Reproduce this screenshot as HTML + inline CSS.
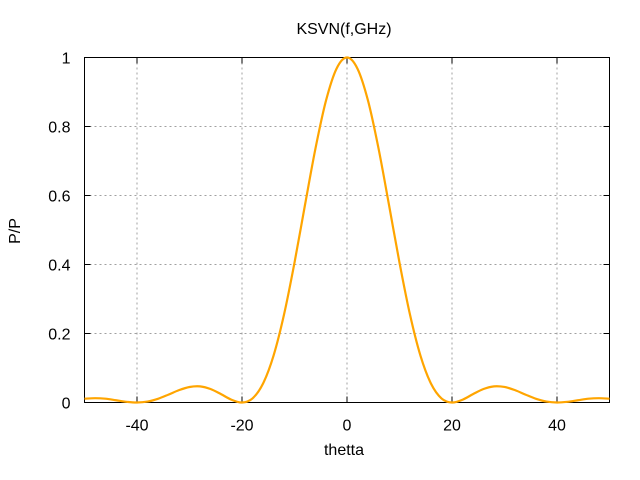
<!DOCTYPE html>
<html><head><meta charset="utf-8"><style>
body{margin:0;background:#fff;}
svg{display:block;font-family:"Liberation Sans",sans-serif;}
</style></head><body>
<svg id="chart" width="640" height="480"></svg>
<script>
const xValues=[-50,-48,-46,-44,-42,-40,-38,-36,-34,-32,-30,-28,-26,-24,-22,-20,-18,-16,-14,-12,-10,-8,-6,-4,-2,0,2,4,6,8,10,12,14,16,18,20,22,24,26,28,30,32,34,36,38,40,42,44,46,48,50];
const yValues=[0.011,0.0125,0.011,0.0065,0.002,0,0.0027,0.0108,0.0229,0.0358,0.0450,0.0468,0.0392,0.0243,0.0080,0,0.0119,0.0547,0.1353,0.2546,0.4053,0.5728,0.7368,0.8751,0.9675,1,0.9675,0.8751,0.7368,0.5728,0.4053,0.2546,0.1353,0.0547,0.0119,0,0.0080,0.0243,0.0392,0.0468,0.0450,0.0358,0.0229,0.0108,0.0027,0,0.002,0.0065,0.011,0.0125,0.011];
const xTicks=[-40,-20,0,20,40];
const yTicks=[0,0.2,0.4,0.6,0.8,1];
const yTickLabels=["0","0.2","0.4","0.6","0.8","1"];

const L=84.5,R=609.5,T=57.5,B=402.5;
const sx=v=>L+(v+50)/100*(R-L);
const sy=v=>B-v*(B-T);
const svg=document.getElementById('chart');
const NS='http://www.w3.org/2000/svg';
function mk(tag,attrs,parent){const e=document.createElementNS(NS,tag);for(const k in attrs)e.setAttribute(k,attrs[k]);(parent||svg).appendChild(e);return e;}

xTicks.forEach(v=>{
  const g=mk('line',{x1:sx(v),x2:sx(v),y1:T,y2:B,stroke:'#a0a0a0','stroke-dasharray':'2,3','stroke-width':1});
  
  
  const t1=mk('line',{x1:sx(v),x2:sx(v),y1:B,y2:B-6,stroke:'#000'});
  
  
  const t2=mk('line',{x1:sx(v),x2:sx(v),y1:T,y2:T+6,stroke:'#000'});
  
  
  const l=mk('text',{x:sx(v),y:B+28,'text-anchor':'middle','font-size':16,fill:'#000'});
  l.textContent=String(v);
  
  
});
yTicks.forEach((v,i)=>{
  if(v>0&&v<1){
    const g=mk('line',{x1:L,x2:R,y1:sy(v),y2:sy(v),stroke:'#a0a0a0','stroke-dasharray':'2,3','stroke-width':1});
    
    
  }
  const t1=mk('line',{x1:L,x2:L+6,y1:sy(v),y2:sy(v),stroke:'#000'});
  
  
  const t2=mk('line',{x1:R,x2:R-6,y1:sy(v),y2:sy(v),stroke:'#000'});
  
  
  const l=mk('text',{x:L-14,y:sy(v)+6,'text-anchor':'end','font-size':16,fill:'#000'});
  l.textContent=yTickLabels[i];
  
  
});
const fr=mk('rect',{x:L,y:T,width:R-L,height:B-T,fill:'none',stroke:'#000','stroke-width':1});



const P=xValues.map((x,i)=>[sx(x),sy(yValues[i])]);
let d='M'+P[0][0].toFixed(2)+','+P[0][1].toFixed(2);
for(let i=0;i<P.length-1;i++){
  const p0=P[Math.max(i-1,0)],p1=P[i],p2=P[i+1],p3=P[Math.min(i+2,P.length-1)];
  const c1=[p1[0]+(p2[0]-p0[0])/6,p1[1]+(p2[1]-p0[1])/6];
  const c2=[p2[0]-(p3[0]-p1[0])/6,p2[1]-(p3[1]-p1[1])/6];
  d+=' C'+c1[0].toFixed(2)+','+c1[1].toFixed(2)+' '+c2[0].toFixed(2)+','+c2[1].toFixed(2)+' '+p2[0].toFixed(2)+','+p2[1].toFixed(2);
}
const line=mk('path',{d:d,fill:'none',stroke:'#ffa500','stroke-width':2.2,'stroke-linejoin':'round'});



const ti=mk('text',{x:344,y:34,'text-anchor':'middle','font-size':16});
ti.textContent='KSVN(f,GHz)';


const xt=mk('text',{x:344,y:455,'text-anchor':'middle','font-size':16});
xt.textContent='thetta';


const yt=mk('text',{x:0,y:0,'text-anchor':'middle','font-size':16,transform:'translate(20,231) rotate(-90)'});
yt.textContent='P/P';


</script>
</body></html>
